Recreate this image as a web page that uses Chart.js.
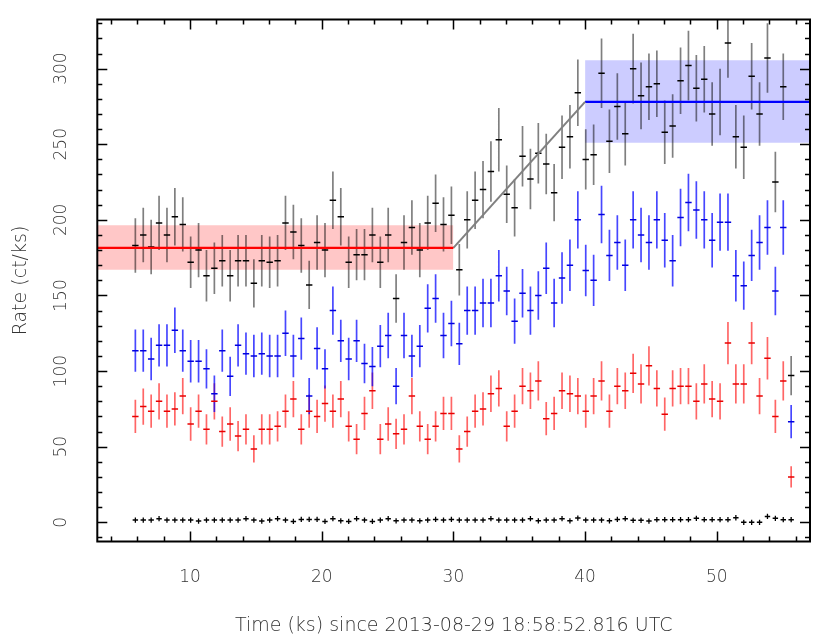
<!DOCTYPE html>
<html>
<head>
<meta charset="utf-8">
<script src="https://cdn.jsdelivr.net/npm/chart.js@4.4.1/dist/chart.umd.min.js"></script>
<style>
  html, body { margin: 0; padding: 0; background: #fff; }
  canvas { display: block; }
</style>
</head>
<body>
<canvas id="grafico" width="830" height="639"></canvas>
<script>
// time bins (ks since 2013-08-29 18:58:52.816 UTC)
const tempos = [
    5.85, 6.45, 7.05, 7.65, 8.25, 8.85, 9.45, 10.05, 10.65, 11.25,
    11.85, 12.45, 13.05, 13.65, 14.25, 14.85, 15.45, 16.05, 16.65, 17.25,
    17.85, 18.45, 19.05, 19.65, 20.25, 20.85, 21.45, 22.05, 22.65, 23.25,
    23.85, 24.45, 25.05, 25.65, 26.25, 26.85, 27.45, 28.05, 28.65, 29.25,
    29.85, 30.45, 31.05, 31.65, 32.25, 32.85, 33.45, 34.05, 34.65, 35.25,
    35.85, 36.45, 37.05, 37.65, 38.25, 38.85, 39.45, 40.05, 40.65, 41.25,
    41.85, 42.45, 43.05, 43.65, 44.25, 44.85, 45.45, 46.05, 46.65, 47.25,
    47.85, 48.45, 49.05, 49.65, 50.25, 50.85, 51.45, 52.05, 52.65, 53.25,
    53.85, 54.45, 55.05, 55.65
];

// total rate (black)
const taxaTotal = [
    183, 190, 182, 198, 190, 202, 197, 172, 180, 163,
    168, 173, 163, 173, 173, 158, 173, 172, 173, 198,
    192, 183, 157, 185, 180, 213, 202, 172, 177, 177,
    190, 172, 190, 148, 185, 195, 180, 198, 211, 197,
    203, 167, 200, 213, 220, 232, 253, 217, 208, 242,
    227, 244, 237, 218, 248, 255, 284, 240, 243, 297,
    252, 275, 257, 300, 282, 288, 290, 258, 262, 292,
    302, 287, 293, 270, 278, 317, 255, 248, 295, 270,
    307, 225, 288, 97
];
const erroTotal = [
    18, 18, 18, 18, 18, 19, 18, 17, 18, 17,
    17, 17, 17, 17, 17, 16, 17, 17, 17, 18,
    18, 18, 16, 18, 18, 19, 19, 17, 17, 17,
    18, 17, 18, 16, 18, 18, 18, 18, 19, 18,
    19, 17, 19, 19, 19, 20, 21, 19, 19, 20,
    20, 20, 20, 19, 21, 21, 22, 20, 20, 23,
    21, 22, 21, 23, 22, 22, 22, 21, 21, 22,
    23, 22, 22, 21, 22, 23, 21, 21, 22, 21,
    23, 20, 22, 13
];

// hard band (blue)
const taxaAzul = [
    113.5, 113.5, 108, 117, 117, 127, 113.5, 106.5, 106.5, 101.5,
    85, 113.5, 96.5, 117, 111.5, 110, 111.5, 110, 110, 125,
    110, 121.5, 83.5, 115, 101.5, 140, 120, 108, 120, 105,
    103, 116.5, 123.5, 90, 123.5, 110, 116.5, 141.5, 148, 123.5,
    131.5, 118, 140, 140, 145, 145, 163, 153, 133, 151.5,
    140, 150, 168, 145, 161.5, 170, 200, 166.5, 160, 203.5,
    176.5, 185, 170, 200, 190, 185, 200, 186.5, 173, 201.5,
    211.5, 206.5, 200, 186.5, 198.5, 198.5, 163, 156.5, 176.5, 185,
    195, 153, 195, 66.5
];
const erroAzul = [
    14, 14, 14, 14, 14, 15, 14, 14, 14, 13,
    12, 14, 13, 14, 14, 14, 14, 14, 14, 15,
    14, 14, 12, 14, 13, 16, 14, 14, 14, 13,
    13, 14, 15, 12, 15, 14, 14, 16, 16, 15,
    15, 14, 16, 16, 16, 16, 17, 16, 15, 16,
    16, 16, 17, 16, 17, 17, 19, 17, 17, 19,
    17, 18, 17, 19, 18, 18, 19, 18, 17, 19,
    19, 19, 19, 18, 19, 19, 17, 16, 17, 18,
    18, 16, 18, 11
];

// soft band (red)
const taxaVermelha = [
    70, 76.5, 73.5, 80, 73.5, 75, 83.5, 65, 73.5, 61.5,
    80, 60, 65, 57, 61.5, 48.5, 61.5, 61.5, 63.5, 73.5,
    81.5, 61.5, 73.5, 70, 78.5, 73.5, 81.5, 63.5, 55, 72,
    87, 55, 65, 58.5, 61.5, 83.5, 63.5, 55, 63.5, 72,
    72, 48.5, 60, 73.5, 75, 85, 88.5, 63.5, 73.5, 90,
    87, 93.5, 68.5, 72, 87, 85, 83.5, 73.5, 83.5, 93.5,
    73.5, 90, 87, 98.5, 91.5, 103.5, 88.5, 71.5, 88.5, 90,
    90, 80, 91.5, 81.5, 80, 118.5, 91.5, 91.5, 118.5, 83.5,
    108.5, 70, 93.5, 30
];
const erroVermelho = [
    11, 12, 11, 12, 11, 11, 12, 11, 11, 10,
    12, 10, 11, 10, 10, 9, 10, 10, 10, 11,
    12, 10, 11, 11, 12, 11, 12, 10, 10, 11,
    12, 10, 11, 10, 10, 12, 10, 10, 10, 11,
    11, 9, 10, 11, 11, 12, 12, 10, 11, 12,
    12, 13, 11, 11, 12, 12, 12, 11, 12, 13,
    11, 12, 12, 13, 13, 13, 12, 11, 12, 12,
    12, 12, 13, 12, 12, 14, 13, 13, 14, 12,
    14, 11, 13, 7
];

// background (black crosses near zero)
const taxaFundo = [
    1.5, 1.5, 1.5, 2.4, 1.5, 1.5, 1.5, 1.5, 0.8, 1.5,
    1.5, 1.5, 1.5, 1.5, 2.4, 1.5, 0.8, 1.5, 2.4, 1.5,
    0.6, 1.9, 1.9, 1.9, 0.6, 2.4, 1.0, 0.6, 2.4, 1.5,
    0.6, 1.5, 2.4, 1.0, 1.5, 1.5, 1.0, 1.5, 1.9, 1.5,
    1.9, 1.5, 1.5, 1.5, 1.5, 2.4, 1.5, 1.5, 1.5, 1.5,
    2.4, 1.0, 1.5, 1.5, 2.4, 1.0, 2.8, 1.5, 1.5, 1.5,
    1.0, 1.9, 2.4, 1.3, 1.3, 0.8, 1.7, 1.7, 1.7, 1.7,
    1.7, 2.6, 1.7, 1.7, 1.7, 1.7, 3.0, 0.0, 0.0, 0.0,
    3.9, 2.6, 1.7, 1.7
];
const erroFundo = 1.75;

// model: constant - linear rise - constant
const modeloX = [2.96, 30, 40, 57.08];
const modeloNivel = [181.5, 278];
const faixaBaixa = [167, 251];
const faixaAlta = [196.5, 305.5];

const ticksX = [10, 20, 30, 40, 50];
const ticksY = [0, 50, 100, 150, 200, 250, 300];
const limitesX = [2.96, 57.08];
const limitesY = [-12.7, 332.5];

const tituloX = 'Time (ks) since 2013-08-29 18:58:52.816 UTC';
const tituloY = 'Rate (ct/ks)';

function barrasErro(xs, ys, es) {
    const out = [];
    xs.forEach((x, i) => {
        const e = Array.isArray(es) ? es[i] : es;
        out.push({ x, y: ys[i] - e }, { x, y: ys[i] + e }, { x, y: null });
    });
    return out;
}

function pontos(xs, ys) {
    return xs.map((x, i) => ({ x, y: ys[i] }));
}

function serieErro(xs, ys, es, cor, largura, ordem) {
    return {
        type: 'line',
        data: barrasErro(xs, ys, es),
        borderColor: cor,
        borderWidth: largura,
        pointRadius: 0,
        spanGaps: false,
        fill: false,
        order: ordem
    };
}

function serieCentro(xs, ys, cor, raio, ordem) {
    return {
        type: 'scatter',
        data: pontos(xs, ys),
        pointStyle: 'line',
        pointRadius: raio,
        borderColor: cor,
        backgroundColor: cor,
        borderWidth: 1.5,
        showLine: false,
        order: ordem
    };
}

function linha(dados, cor, largura, ordem, fill, fundo) {
    return {
        type: 'line',
        data: dados,
        borderColor: cor,
        borderWidth: largura,
        backgroundColor: fundo || cor,
        pointRadius: 0,
        fill: fill === undefined ? false : fill,
        order: ordem
    };
}

const datasets = [
    // model lines on top
    linha([{ x: modeloX[0], y: modeloNivel[0] }, { x: modeloX[1], y: modeloNivel[0] }], '#ff0000', 2.2, 0),
    linha([{ x: modeloX[1], y: modeloNivel[0] }, { x: modeloX[2], y: modeloNivel[1] }], '#808080', 2, 0),
    linha([{ x: modeloX[2], y: modeloNivel[1] }, { x: modeloX[3], y: modeloNivel[1] }], '#0000ff', 2.2, 0),

    serieCentro(tempos, taxaTotal, '#000000', 3.2, 1),
    serieCentro(tempos, taxaAzul, '#0000e0', 3.2, 1),
    serieCentro(tempos, taxaVermelha, '#e80000', 3.2, 1),
    serieCentro(tempos, taxaFundo, '#000000', 2.7, 1),

    serieErro(tempos, taxaTotal, erroTotal, 'rgba(0,0,0,0.5)', 1.7, 2),
    serieErro(tempos, taxaAzul, erroAzul, 'rgba(0,0,255,0.72)', 1.7, 2),
    serieErro(tempos, taxaVermelha, erroVermelho, 'rgba(255,0,0,0.6)', 1.7, 2),
    serieErro(tempos, taxaFundo, erroFundo, '#000000', 1.3, 2),
];

// uncertainty bands (low edge then high edge filled to it)
const nBase = datasets.length;
datasets.push(linha([{ x: modeloX[0], y: faixaBaixa[0] }, { x: modeloX[1], y: faixaBaixa[0] }], 'rgba(0,0,0,0)', 0, 10));
datasets.push(linha([{ x: modeloX[0], y: faixaAlta[0] }, { x: modeloX[1], y: faixaAlta[0] }], 'rgba(0,0,0,0)', 0, 10, nBase, 'rgba(255,0,0,0.22)'));
datasets.push(linha([{ x: modeloX[2], y: faixaBaixa[1] }, { x: modeloX[3], y: faixaBaixa[1] }], 'rgba(0,0,0,0)', 0, 10));
datasets.push(linha([{ x: modeloX[2], y: faixaAlta[1] }, { x: modeloX[3], y: faixaAlta[1] }], 'rgba(0,0,0,0)', 0, 10, nBase + 2, 'rgba(0,0,255,0.2)'));

const molduraPGPLOT = {
    id: 'moldura',
    afterDraw(chart) {
        const ctx = chart.ctx;
        const a = chart.chartArea;
        const sx = chart.scales.x;
        const sy = chart.scales.y;
        ctx.save();
        ctx.strokeStyle = '#000';

        // inward ticks on all four sides
        ctx.lineWidth = 1.5;
        ctx.beginPath();
        for (let v = 4; v <= 56; v += 2) {
            const px = Math.round(sx.getPixelForValue(v)) + 0.5;
            const len = v % 10 === 0 ? 10 : 5;
            ctx.moveTo(px, a.bottom); ctx.lineTo(px, a.bottom - len);
            ctx.moveTo(px, a.top); ctx.lineTo(px, a.top + len);
        }
        for (let v = -10; v <= 330; v += 10) {
            const py = Math.round(sy.getPixelForValue(v)) + 0.5;
            const len = v % 50 === 0 ? 10 : 5;
            ctx.moveTo(a.left, py); ctx.lineTo(a.left + len, py);
            ctx.moveTo(a.right, py); ctx.lineTo(a.right - len, py);
        }
        ctx.stroke();

        ctx.lineWidth = 2;
        ctx.strokeRect(a.left, a.top, a.right - a.left, a.bottom - a.top);

        // tick labels
        ctx.fillStyle = '#333';
        ctx.font = '300 17px "DejaVu Sans"';
        ctx.textAlign = 'center';
        ctx.textBaseline = 'middle';
        ticksX.forEach(v => {
            ctx.fillText(String(v), sx.getPixelForValue(v), 578);
        });
        ticksY.forEach(v => {
            ctx.save();
            ctx.translate(62, sy.getPixelForValue(v));
            ctx.rotate(-Math.PI / 2);
            ctx.fillText(String(v), 0, 0);
            ctx.restore();
        });

        // axis titles
        ctx.font = '300 19px "DejaVu Sans"';
        ctx.fillText(tituloX, (a.left + a.right) / 2, 626);
        ctx.save();
        ctx.translate(21, (a.top + a.bottom) / 2);
        ctx.rotate(-Math.PI / 2);
        ctx.fillText(tituloY, 0, 0);
        ctx.restore();

        ctx.restore();
    }
};

new Chart(document.getElementById('grafico').getContext('2d'), {
    type: 'line',
    data: { datasets },
    options: {
        responsive: false,
        animation: false,
        devicePixelRatio: 1,
        layout: { padding: { left: 97.3, top: 19.5, right: 20, bottom: 97.5 } },
        plugins: {
            legend: { display: false },
            tooltip: { enabled: false }
        },
        scales: {
            x: { type: 'linear', min: limitesX[0], max: limitesX[1], display: false },
            y: { type: 'linear', min: limitesY[0], max: limitesY[1], display: false }
        }
    },
    plugins: [molduraPGPLOT]
});
</script>
</body>
</html>
